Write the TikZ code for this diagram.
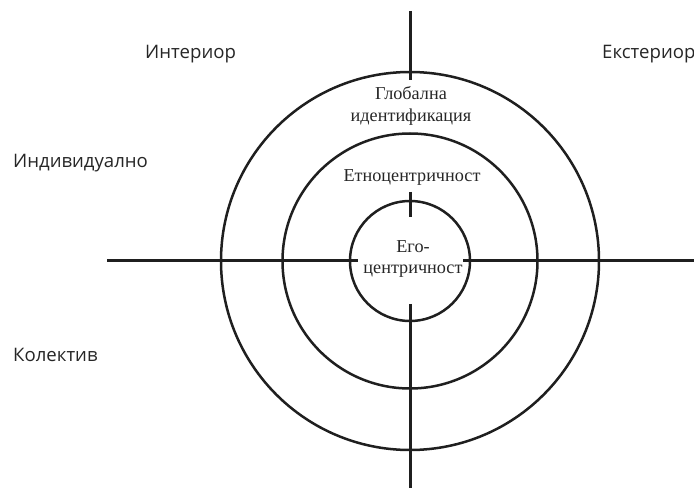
\documentclass[tikz,border=0pt]{standalone}
\usepackage{fontspec}
\setmainfont{Liberation Serif}
\newfontfamily\labelsans{Open Sans}
\begin{document}
\begin{tikzpicture}[x=1pt,y=-1pt,
  axis/.style={line width=3pt, color=black!88},
  ring/.style={line width=2.5pt, color=black!88},
  serif/.style={font=\fontsize{18.2}{21.5}\selectfont, color=black!85, align=center, inner sep=0pt},
  side/.style={font=\labelsans\fontsize{18.6}{22}\selectfont, color=black!85, inner sep=0pt}]
\useasboundingbox (0,0) rectangle (694,489);
\coordinate (c) at (410,261);
\draw[ring] (c) circle[radius=60];
\draw[ring] (c) circle[radius=127.5];
\draw[ring] (c) circle[radius=189];
\coordinate (t1) at (410,11);
\coordinate (t2) at (410,80);
\coordinate (m1) at (410,192);
\coordinate (m2) at (410,217);
\coordinate (b1) at (410,304);
\coordinate (b2) at (410,488);
\coordinate (l1) at (107,261);
\coordinate (l2) at (358,261);
\coordinate (r1) at (463,261);
\coordinate (r2) at (694,261);
\draw[axis] (t1) -- (t2);
\draw[axis] (m1) -- (m2);
\draw[axis] (b1) -- (b2);
\draw[axis] (l1) -- (l2);
\draw[axis] (r1) -- (r2);
\node[serif] (glob) at (411,106) {Глобална\\идентификация};
\node[serif] (etno) at (412,177) {Етноцентричност};
\node[serif] (ego) at (413,259) {Его-\\центричност};
\node[side, anchor=west] (int) at (145,54) {Интериор};
\node[side, anchor=west] (ext) at (602,54) {Екстериор};
\node[side, anchor=west] (ind) at (13,163) {Индивидуално};
\node[side, anchor=west] (kol) at (13,355) {Колектив};
\end{tikzpicture}
\end{document}
